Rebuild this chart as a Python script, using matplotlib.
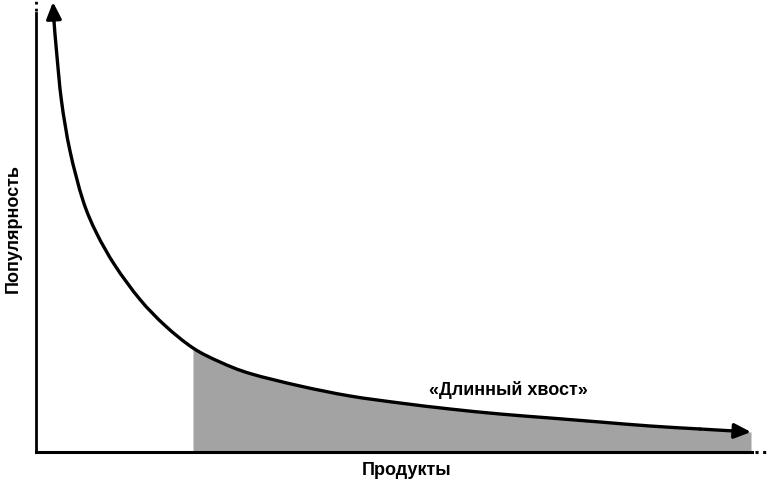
import matplotlib
matplotlib.use('Agg')
import matplotlib.pyplot as plt
from matplotlib.path import Path
from matplotlib.patches import PathPatch
import numpy as np

plt.rcParams['font.family'] = ['Liberation Sans Narrow', 'Liberation Sans', 'DejaVu Sans']

# кривая «длинного хвоста» (ранг продукта -> популярность)
rank = [17, 18, 20.5, 25.5, 34, 47, 60.5, 79, 104, 129, 157, 184, 214, 264,
        314, 364, 414, 464, 514, 564, 614, 664, 715]
popularity = [450, 431, 401, 351, 301, 251.5, 219, 186.5, 152.5, 126.5, 104, 90, 78.5, 66,
              56, 49, 43, 38, 34, 30, 26, 23, 20]
tail_start = 157

fig = plt.figure(figsize=(7.7, 4.9), dpi=100)
ax = fig.add_axes([36 / 770, 38 / 490, 726 / 770, 452 / 490])
ax.set_xlim(0, 726)
ax.set_ylim(0, 452)

x = np.array(rank)
y = np.array(popularity)

# заливка хвоста
mask = x >= tail_start
ax.fill_between(x[mask], 0, y[mask], color='#a3a3a3', lw=0, zorder=1)

# кривая: сплайн Катмулла-Рома (кубические Безье) через прочитанные точки
pts = np.column_stack([x, y])
verts = [pts[1]]
codes = [Path.MOVETO]
for i in range(1, len(pts) - 2):
    p0, p1, p2, p3 = pts[i - 1], pts[i], pts[i + 1], pts[min(i + 2, len(pts) - 1)]
    verts += [p1 + (p2 - p0) / 6, p2 - (p3 - p1) / 6, p2]
    codes += [Path.CURVE4] * 3
ax.add_patch(PathPatch(Path(verts, codes), fill=False, ec='black', lw=2.4,
                       capstyle='round', joinstyle='round', zorder=3))

# концы кривой — стрелки
arrow = dict(arrowstyle='-|>,head_length=1.0,head_width=0.45',
             color='black', lw=2.4, shrinkA=0, shrinkB=0)
ax.annotate('', xy=(x[0], y[0]), xytext=(x[1], y[1]), arrowprops=arrow, zorder=4)
ax.annotate('', xy=(x[-1], y[-1]), xytext=(x[-2], y[-2]), arrowprops=arrow, zorder=4)

# оси с точками на концах
for s in ['top', 'right', 'left', 'bottom']:
    ax.spines[s].set_visible(False)
ax.plot([0, 0], [0, 439], color='black', lw=2, clip_on=False)
ax.plot([0, 0], [441, 452], color='black', lw=2, ls=(0, (1, 1.5)), clip_on=False)
ax.plot([0, 716], [0, 0], color='black', lw=2.2, clip_on=False)
ax.plot([719, 730], [0, 0], color='black', lw=2.2, ls=(0, (1, 1.5)), clip_on=False)
ax.set_xticks([])
ax.set_yticks([])

ax.text(472, 62, '«Длинный хвост»', fontsize=13, fontweight='bold',
        ha='center', va='center')
fig.text(407 / 770, 1 - 470 / 490, 'Продукты', fontsize=13, fontweight='bold',
         ha='center', va='center')
fig.text(13 / 770, 1 - 228 / 490, 'Популярность', fontsize=13, fontweight='bold',
         ha='center', va='center', rotation=90)

fig.savefig('out.png', dpi=100)
